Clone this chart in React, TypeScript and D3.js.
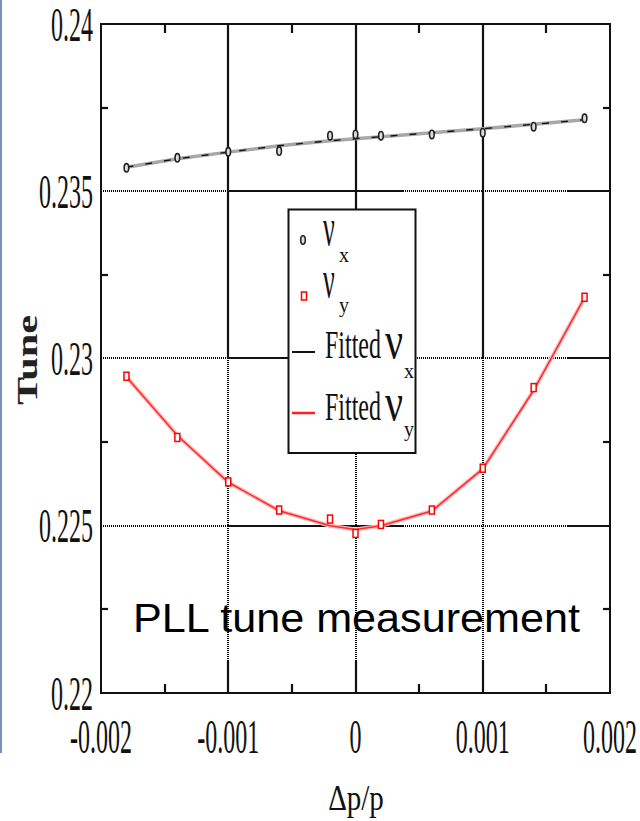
import React from "react";
import * as d3 from "d3";

// ---- data ----
const dpp = [-0.0018, -0.0014, -0.001, -0.0006, -0.0002, 0, 0.0002, 0.0006, 0.001, 0.0014, 0.0018];
const nuX = [0.2357, 0.236, 0.23618, 0.2362, 0.23666, 0.2367, 0.23666, 0.2367, 0.23675, 0.23693, 0.23718];
const nuY = [0.22947, 0.22764, 0.22631, 0.22547, 0.2252, 0.22477, 0.22504, 0.22547, 0.22672, 0.22913, 0.23183];
const fitNuX = [0.23572, 0.23597, 0.23617, 0.23636, 0.23651, 0.23657, 0.23663, 0.23675, 0.23687, 0.237, 0.23714];
const fitNuY = [0.22945, 0.2277, 0.2263, 0.22545, 0.225, 0.22489, 0.225, 0.22544, 0.2267, 0.22905, 0.23182];

const xTicks = [-0.002, -0.001, 0, 0.001, 0.002];
const xTickLabels = ["-0.002", "-0.001", "0", "0.001", "0.002"];
const xMinor = [-0.0015, -0.0005, 0.0005, 0.0015];
const yTicks = [0.22, 0.225, 0.23, 0.235, 0.24];
const yTickLabels = ["0.22", "0.225", "0.23", "0.235", "0.24"];
const yMinor = [0.2225, 0.2275, 0.2325, 0.2375];
const xGrid = [-0.001, 0, 0.001];
const yGrid = [0.225, 0.23, 0.235];
// solid pieces of the horizontal grid lines (rest is dotted)
const hSolid = [[-0.001, 0.00037], [0.00167, 0.002]];

const W = 640, H = 821;
const L = 101, R = 610, T = 24, B = 693;

export default function App() {
  const x = d3.scaleLinear().domain([-0.002, 0.002]).range([L, R]);
  const y = d3.scaleLinear().domain([0.22, 0.24]).range([B, T]);
  const lineX = d3.line<number>().x((_, i) => x(dpp[i])).y((v) => y(v)).curve(d3.curveLinear);
  const serif = "'Liberation Serif', 'DejaVu Serif', serif";
  const dot = { stroke: "#000", strokeWidth: 2, strokeDasharray: "1,1" };
  const solid = { stroke: "#111", strokeWidth: 2.2 };
  const rx = (v: number) => Math.round(x(v));
  const ry = (v: number) => Math.round(y(v));

  // horizontal grid pieces
  const hPieces: { v: number; a: number; b: number; s: boolean }[] = [];
  yGrid.forEach((v) => {
    let cur = -0.002;
    hSolid.forEach(([a, b]) => {
      if (a > cur) hPieces.push({ v, a: cur, b: a, s: false });
      hPieces.push({ v, a, b, s: true });
      cur = b;
    });
    if (cur < 0.002) hPieces.push({ v, a: cur, b: 0.002, s: false });
  });

  return (
    <svg width={W} height={H} style={{ position: "absolute", left: 0, top: 0, background: "#fff" }}>
      <rect x={0} y={0} width={W} height={H} fill="#fff" />
      <rect x={0} y={0} width={2} height={753} fill="#7391ba" />

      {/* grid */}
      {hPieces.map((p, i) => (
        <line key={"h" + i} x1={rx(p.a)} x2={rx(p.b)} y1={ry(p.v)} y2={ry(p.v)} style={p.s ? solid : dot} />
      ))}
      {xGrid.map((v) => (
        <g key={"v" + v}>
          <line x1={rx(v)} x2={rx(v)} y1={T} y2={ry(0.23)} style={solid} />
          <line x1={rx(v)} x2={rx(v)} y1={ry(0.23)} y2={B - 33} style={dot} />
          <line x1={rx(v)} x2={rx(v)} y1={B - 33} y2={B} style={solid} />
        </g>
      ))}
      {/* minor ticks */}
      {xMinor.map((v) => (
        <g key={"xm" + v}>
          <line x1={rx(v)} x2={rx(v)} y1={B} y2={B - 9} style={solid} />
          <line x1={rx(v)} x2={rx(v)} y1={T} y2={T + 9} style={solid} />
        </g>
      ))}
      {yMinor.map((v) => (
        <g key={"ym" + v}>
          <line x1={L} x2={L + 7} y1={ry(v)} y2={ry(v)} style={solid} />
          <line x1={R} x2={R - 7} y1={ry(v)} y2={ry(v)} style={solid} />
        </g>
      ))}
      <rect x={L} y={T} width={R - L} height={B - T} fill="none" stroke="#111" strokeWidth={2} />

      {/* tick labels */}
      {yTicks.map((v, i) => (
        <text key={"yl" + v} transform={`translate(93,${y(v) + 16.5}) scale(1,2.03)`} textAnchor="end"
          fontFamily={serif} fontSize={24} fill="#111">{yTickLabels[i]}</text>
      ))}
      {xTicks.map((v, i) => (
        <text key={"xl" + v} transform={`translate(${x(v)},753) scale(1,2.03)`} textAnchor="middle"
          fontFamily={serif} fontSize={24} fill="#111">{xTickLabels[i]}</text>
      ))}
      <text transform="translate(356,810) scale(1,1.25)" textAnchor="middle" fontFamily={serif} fontSize={29} fill="#111">Δp/p</text>
      <text transform="translate(37,360) rotate(-90) scale(1.41,1)" textAnchor="middle" fontFamily={serif}
        fontWeight="bold" fontSize={30} fill="#222">Tune</text>

      {/* νx fitted */}
      <path d={lineX(fitNuX) || ""} fill="none" stroke="#a8a8a8" strokeWidth={3.5} />
      <path d={lineX(fitNuX) || ""} fill="none" stroke="#111" strokeWidth={1.4} strokeDasharray="7 12" />
      {/* νy fitted */}
      <path d={lineX(fitNuY) || ""} fill="none" stroke="#ffb8b8" strokeWidth={4} />
      <path d={lineX(fitNuY) || ""} fill="none" stroke="#ff2a2a" strokeWidth={1.5} />

      {nuX.map((v, i) => (
        <ellipse key={"px" + i} cx={x(dpp[i])} cy={y(v)} rx={2.3} ry={4.2} fill="#ddd" stroke="#222" strokeWidth={1.6} />
      ))}
      {nuY.map((v, i) => (
        <rect key={"py" + i} x={x(dpp[i]) - 2.5} y={y(v) - 4} width={5} height={8} fill="#fff" stroke="#f00" strokeWidth={1.5} />
      ))}

      {/* legend */}
      <rect x={288.5} y={209.5} width={127} height={243.5} fill="#fff" stroke="#111" strokeWidth={2} />
      <ellipse cx={303} cy={240} rx={2.3} ry={4.2} fill="#ddd" stroke="#222" strokeWidth={1.6} />
      <text transform="translate(323,245) scale(1,2)" fontFamily={serif} fontSize={26} fill="#111">ν</text>
      <text x={339} y={262} fontFamily={serif} fontSize={20} fill="#111">x</text>

      <rect x={301.5} y={292} width={5} height={8} fill="#fff" stroke="#f00" strokeWidth={1.5} />
      <text transform="translate(323,297) scale(1,2)" fontFamily={serif} fontSize={26} fill="#111">ν</text>
      <text x={339} y={312} fontFamily={serif} fontSize={20} fill="#111">y</text>

      <line x1={292} x2={315} y1={352} y2={352} stroke="#111" strokeWidth={2} />
      <text transform="translate(325,358) scale(1,1.7)" fontFamily={serif} fontSize={24} fill="#111">Fitted</text>
      <text transform="translate(385,358) scale(1,1.3)" fontFamily={serif} fontSize={40} fill="#111">ν</text>
      <text x={404} y={378} fontFamily={serif} fontSize={20} fill="#111">x</text>

      <line x1={292} x2={315} y1={413} y2={413} stroke="#ff2020" strokeWidth={2.5} />
      <text transform="translate(325,420) scale(1,1.7)" fontFamily={serif} fontSize={24} fill="#111">Fitted</text>
      <text transform="translate(385,420) scale(1,1.3)" fontFamily={serif} fontSize={40} fill="#111">ν</text>
      <text x={404} y={436} fontFamily={serif} fontSize={20} fill="#111">y</text>

      <text x={133} y={632} fontFamily="'Liberation Sans', Arial, sans-serif" fontSize={40} fill="#000"
        textLength={447} lengthAdjust="spacingAndGlyphs">PLL tune measurement</text>
    </svg>
  );
}
